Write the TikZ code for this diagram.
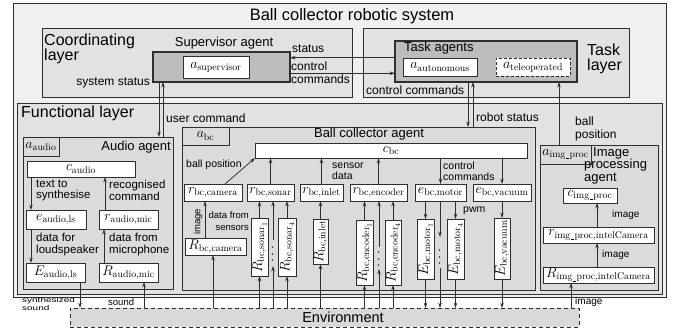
\RequirePackage{fix-cm}
\documentclass[tikz,border=0pt]{standalone}
\usepackage{amsmath}
\usepackage{fontspec}
\setsansfont{Liberation Sans}
\usetikzlibrary{arrows.meta}
\definecolor{bgouter}{gray}{0.94}
\definecolor{bglayer}{gray}{0.885}
\definecolor{bgagent}{gray}{0.74}
\definecolor{bgsub}{gray}{0.86}
\definecolor{bgenv}{gray}{0.85}
\definecolor{edge}{gray}{0.18}
\newcommand\mathsz{\fontsize{14}{16}\selectfont}
\newcommand\ftitle{\sffamily\fontsize{16.5}{14}\selectfont}
\newcommand\flayer{\sffamily\fontsize{16}{15.5}\selectfont}
\newcommand\fenv{\sffamily\fontsize{14.5}{14}\selectfont}
\newcommand\fagent{\sffamily\fontsize{13}{12.5}\selectfont}
\newcommand\flabel{\sffamily\fontsize{12}{13}\selectfont}
\newcommand\faud{\sffamily\fontsize{11.5}{11.3}\selectfont}
\newcommand\fbcl{\sffamily\fontsize{10.5}{11.5}\selectfont}
\newcommand\fsml{\sffamily\fontsize{9.5}{12}\selectfont}
\newcommand\fimg{\sffamily\fontsize{10}{12}\selectfont}
\newcommand\usc{\kern0.3pt\rule[-1.2pt]{3.6pt}{0.4pt}\kern0.3pt}
\newcommand\bx[7]{\node[#2, minimum width={(#5)-(#3)}, minimum height={(#6)-(#4)}] (#1) at ({((#3)+(#5))/2},{((#4)+(#6))/2}) {#7};}
\begin{document}
\begin{tikzpicture}[x=1pt,y=-1pt,
  frame/.style={draw=edge, line width=0.8pt, inner sep=0pt, outer sep=0pt},
  outerbox/.style={frame, fill=bgouter},
  layerbox/.style={frame, fill=bglayer},
  agentbox/.style={frame, fill=bgagent, line width=1.2pt},
  subbox/.style={frame, fill=bgsub, font=\mathsz},
  wbox/.style={frame, fill=white, font=\mathsz},
  envbox/.style={frame, fill=bgenv, dash pattern=on 4pt off 3pt},
  rtxt/.style={inner sep=0pt, font=\mathsz, rotate=90},
  vdots/.style={inner sep=0pt, font=\mathsz, rotate=90},
  lbl/.style={inner sep=0pt, align=left},
  arr/.style={draw=edge, line width=0.75pt, -{Stealth[length=5.5pt,width=3.6pt]}}]
\useasboundingbox (0,0) rectangle (679,329);
% frames
\bx{outer}{outerbox}{13}{3}{666}{297}{}
\bx{coordl}{layerbox}{42}{28}{352}{97}{}
\bx{taskl}{layerbox}{363}{28}{629}{97}{}
\bx{sup}{agentbox}{153}{52}{290}{82}{}
\bx{asup}{wbox}{183}{56}{249}{78}{$a_{\mathrm{supervisor}}$}
\bx{task}{agentbox}{395}{41}{577}{82}{}
\bx{aauto}{wbox}{403}{58}{477}{76}{$a_{\mathrm{autonomous}}$}
\bx{atele}{wbox,line width=1pt,dash pattern=on 3pt off 2pt}{496}{58}{570}{76}{$a_{\mathrm{teleoperated}}$}
\bx{func}{layerbox}{17}{103}{662}{294}{}
% audio agent
\bx{audio}{subbox}{23}{137}{173}{289}{}
\bx{aaudio}{subbox}{23}{137}{59}{156}{$a_{\mathrm{audio}}$}
\bx{caudio}{wbox}{27}{161}{135}{177}{$c_{\mathrm{audio}}$}
\bx{els}{wbox}{26}{210}{86}{229}{$e_{\mathrm{audio,ls}}$}
\bx{rmic}{wbox}{99}{210}{158}{229}{$r_{\mathrm{audio,mic}}$}
\bx{Els}{wbox}{26}{263}{85}{282}{$E_{\mathrm{audio,ls}}$}
\bx{Rmic}{wbox}{99}{263}{158}{282}{$R_{\mathrm{audio,mic}}$}
% ball collector agent
\bx{bc}{subbox}{182}{127}{535}{290}{}
\bx{abc}{subbox}{182}{127}{229}{145}{$a_{\mathrm{bc}}$}
\bx{cbc}{wbox}{255}{143}{527}{158}{$c_{\mathrm{bc}}$}
\bx{rcam}{wbox}{184}{184}{242}{201}{$r_{\mathrm{bc,camera}}$}
\bx{rsonar}{wbox}{247}{184}{294}{201}{$r_{\mathrm{bc,sonar}}$}
\bx{rinlet}{wbox}{300}{184}{343}{201}{$r_{\mathrm{bc,inlet}}$}
\bx{renc}{wbox}{350}{184}{407}{201}{$r_{\mathrm{bc,encoder}}$}
\bx{emotor}{wbox}{415}{184}{466}{201}{$e_{\mathrm{bc,motor}}$}
\bx{evac}{wbox}{473}{184}{531}{201}{$e_{\mathrm{bc,vacuum}}$}
\bx{Rcam}{wbox}{185}{238}{246}{255}{$R_{\mathrm{bc,camera}}$}
\bx{Rs1}{wbox}{251}{218}{268}{276}{}
\bx{Rs4}{wbox}{278}{218}{296}{276}{}
\bx{Rin}{wbox}{313}{219}{328}{264}{}
\bx{Re1}{wbox}{356}{220}{373}{285}{}
\bx{Re4}{wbox}{385}{220}{401}{285}{}
\bx{Em1}{wbox}{417}{219}{434}{279}{}
\bx{Em4}{wbox}{447}{219}{464}{279}{}
\bx{Ev}{wbox}{494}{218}{510}{279}{}
\node[rtxt] (Rs1t) at (Rs1) {$R_{\mathrm{bc,sonar}_1}$};
\node[rtxt] (Rs4t) at (Rs4) {$R_{\mathrm{bc,sonar}_4}$};
\node[rtxt] (Rint) at (Rin) {$R_{\mathrm{bc,inlet}}$};
\node[rtxt] (Re1t) at (Re1) {$R_{\mathrm{bc,encoder}_1}$};
\node[rtxt] (Re4t) at (Re4) {$R_{\mathrm{bc,encoder}_4}$};
\node[rtxt] (Em1t) at (Em1) {$E_{\mathrm{bc,motor}_1}$};
\node[rtxt] (Em4t) at (Em4) {$E_{\mathrm{bc,motor}_4}$};
\node[rtxt] (Evt) at (Ev) {$E_{\mathrm{bc,vacuum}}$};
% image processing agent
\bx{img}{subbox}{540}{145}{658}{290}{}
\bx{aimg}{subbox}{540}{145}{591}{164}{$a_{\mathrm{img\usc proc}}$}
\bx{cimg}{wbox}{563}{188}{617}{203}{$c_{\mathrm{img\usc proc}}$}
\bx{rimg}{wbox}{543}{227}{654}{243}{$r_{\mathrm{img\usc proc,intelCamera}}$}
\bx{Rimg}{wbox}{543}{267}{654}{283}{$R_{\mathrm{img\usc proc,intelCamera}}$}
% environment
\bx{env}{envbox}{70}{308}{579}{327}{}
% titles
\node[lbl, font=\ftitle] (title) at (352,16) {Ball collector robotic system};
\node[lbl, font=\flayer, anchor=west] (coordt) at (44,49) {Coordinating\\layer};
\node[lbl, font=\flayer, anchor=west] (taskt) at (587,59) {Task\\layer};
\node[lbl, font=\flayer, anchor=west] (funct) at (21,113) {Functional layer};
\node[lbl, font=\fenv] (envt) at (343,317) {Environment};
\node[lbl, font=\fagent] (supt) at (224,43) {Supervisor agent};
\node[lbl, font=\fagent, anchor=west] (taskat) at (404,48) {Task agents};
\node[lbl, font=\fagent, anchor=east] (audiot) at (171,147) {Audio agent};
\node[lbl, font=\fagent] (bct) at (369,134) {Ball collector agent};
\node[lbl, font=\fagent, anchor=west] (imgt) at (584,165.5) {\hspace*{9pt}Image\\processing\\agent};
% upper labels
\node[lbl, font=\flabel, anchor=west] (lstatus) at (292,49) {status};
\node[lbl, font=\flabel, anchor=west] (lctrl) at (291,72.5) {control\\commands};
\node[lbl, font=\flabel, anchor=east] (lsys) at (150,83) {system status};
\node[lbl, font=\flabel, anchor=west] (lctrl2) at (366,90) {control commands};
\node[lbl, font=\flabel, anchor=west] (luser) at (166,118) {user command};
\node[lbl, font=\flabel, anchor=west] (lrobot) at (476,117) {robot status};
\node[lbl, font=\flabel, anchor=west] (lballp) at (575,129) {ball\\position};
% audio labels
\node[lbl, font=\faud, anchor=west] (ltts) at (36,190.5) {text to\\synthesise};
\node[lbl, font=\faud, anchor=west] (lrec) at (109,190.5) {recognised\\command};
\node[lbl, font=\faud, anchor=west] (lls) at (36,244.5) {data for\\loudspeaker};
\node[lbl, font=\faud, anchor=west] (lmic) at (109,244.5) {data from\\microphone};
\node[lbl, font=\fsml, anchor=west, yscale=0.72, xscale=1.05, transform shape] (lsyn) at (22,304) {synthesized\\sound};
\node[lbl, font=\fsml, anchor=west] (lsound) at (108,302) {sound};
% bc labels
\node[lbl, font=\fbcl, anchor=west] (lbpos) at (186,165) {ball position};
\node[lbl, font=\fbcl, anchor=west] (lsens) at (332,171) {sensor\\data};
\node[lbl, font=\fbcl, anchor=west] (lccmd) at (443,171) {control\\commands};
\node[lbl, font=\fbcl, anchor=west] (lpwm) at (463,211) {pwm};
\node[lbl, font=\fsml, rotate=90] (limg1) at (198,222) {image};
\node[lbl, font=\fsml, align=right, anchor=east] (ldfs) at (249,221) {data from\\sensors};
% img labels
\node[lbl, font=\fimg, anchor=west] (limg2) at (612,215) {image};
\node[lbl, font=\fimg, anchor=west] (limg3) at (602,255) {image};
\node[lbl, font=\fimg, anchor=west] (limg4) at (575,302) {image};
% dots
\node[vdots] (sdots) at (273,253) {$\cdots$};
\node[vdots] (edots) at (379,258) {$\cdots$};
\node[vdots] (mdots) at (440,256) {$\cdots$};
\coordinate (smidtop) at (273,240);
\coordinate (smidbot) at (273,266);
\coordinate (emidtop) at (379,247);
\coordinate (emidbot) at (379,269);
\coordinate (mmidtop) at (440,237);
\coordinate (mmidbot) at (440,268);
% connectors: coordinating/task
\draw[arr] (task.west |- 0,57.7) -- (sup.east |- 0,57.7);
\draw[arr] (sup.east |- 0,73.3) -- (task.west |- 0,73.3);
\draw[arr] (sup.south -| 159,0) -- (audio.north -| 159,0);
\draw[arr] (audio.north -| 163,0) -- (sup.south -| 163,0);
\draw[arr] (task.south -| 468,0) -- (bc.north -| 468,0);
\draw[arr] (bc.north -| 473,0) -- (task.south -| 473,0);
\draw[arr] (aimg.north -| 559,0) -- (task.south -| 559,0);
% audio
\draw[arr] (caudio.south -| 31,0) -- (els.north -| 31,0);
\draw[arr] (rmic.north -| 105,0) -- (caudio.south -| 105,0);
\draw[arr] (els.south -| 31,0) -- (Els.north -| 31,0);
\draw[arr] (Rmic.north -| 104,0) -- (rmic.south -| 104,0);
\draw[arr] (Els.south -| 80,0) -- (env.north -| 80,0);
\draw[arr] (env.north -| 144,0) -- (Rmic.south -| 144,0);
% ball collector
\draw[arr] (rcam.north -| 225,0) -- (cbc.south west);
\draw[arr] (rsonar.north) -- (rsonar.north |- cbc.south);
\draw[arr] (rinlet.north) -- (rinlet.north |- cbc.south);
\draw[arr] (renc.north) -- (renc.north |- cbc.south);
\draw[arr] (emotor.north |- cbc.south) -- (emotor.north);
\draw[arr] (evac.north |- cbc.south) -- (evac.north);
\draw[arr] (Rcam.north -| 205,0) -- (rcam.south -| 205,0);
\draw[arr] (env.north -| 213,0) -- (Rcam.south -| 213,0);
\draw[arr] (Rs1.north) -- (Rs1.north |- rsonar.south);
\draw[arr] (env.north -| Rs1.south) -- (Rs1.south);
\draw[arr] (Rs4.north) -- (Rs4.north |- rsonar.south);
\draw[arr] (env.north -| Rs4.south) -- (Rs4.south);
\draw[arr] (smidtop) -- (rsonar.south -| smidtop);
\draw[arr] (env.north -| smidbot) -- (smidbot);
\draw[arr] (Rin.north) -- (Rin.north |- rinlet.south);
\draw[arr] (env.north -| Rin.south) -- (Rin.south);
\draw[arr] (Re1.north) -- (Re1.north |- renc.south);
\draw[arr] (env.north -| Re1.south) -- (Re1.south);
\draw[arr] (Re4.north) -- (Re4.north |- renc.south);
\draw[arr] (env.north -| Re4.south) -- (Re4.south);
\draw[arr] (emidtop) -- (renc.south -| emidtop);
\draw[arr] (env.north -| emidbot) -- (emidbot);
\draw[arr] (Em1.north |- emotor.south) -- (Em1.north);
\draw[arr] (Em1.south) -- (Em1.south |- env.north);
\draw[arr] (Em4.north |- emotor.south) -- (Em4.north);
\draw[arr] (Em4.south) -- (Em4.south |- env.north);
\draw[arr] (emotor.south -| mmidtop) -- (mmidtop);
\draw[arr] (mmidbot) -- (env.north -| mmidbot);
\draw[arr] (Ev.north |- evac.south) -- (Ev.north);
\draw[arr] (Ev.south) -- (Ev.south |- env.north);
% image processing
\draw[arr] (Rimg.north -| 597,0) -- (rimg.south -| 597,0);
\draw[arr] (rimg.north -| 597,0) -- (cimg.south -| 597,0);
\draw[arr] (env.north -| 571,0) -- (Rimg.south -| 571,0);
\end{tikzpicture}
\end{document}
